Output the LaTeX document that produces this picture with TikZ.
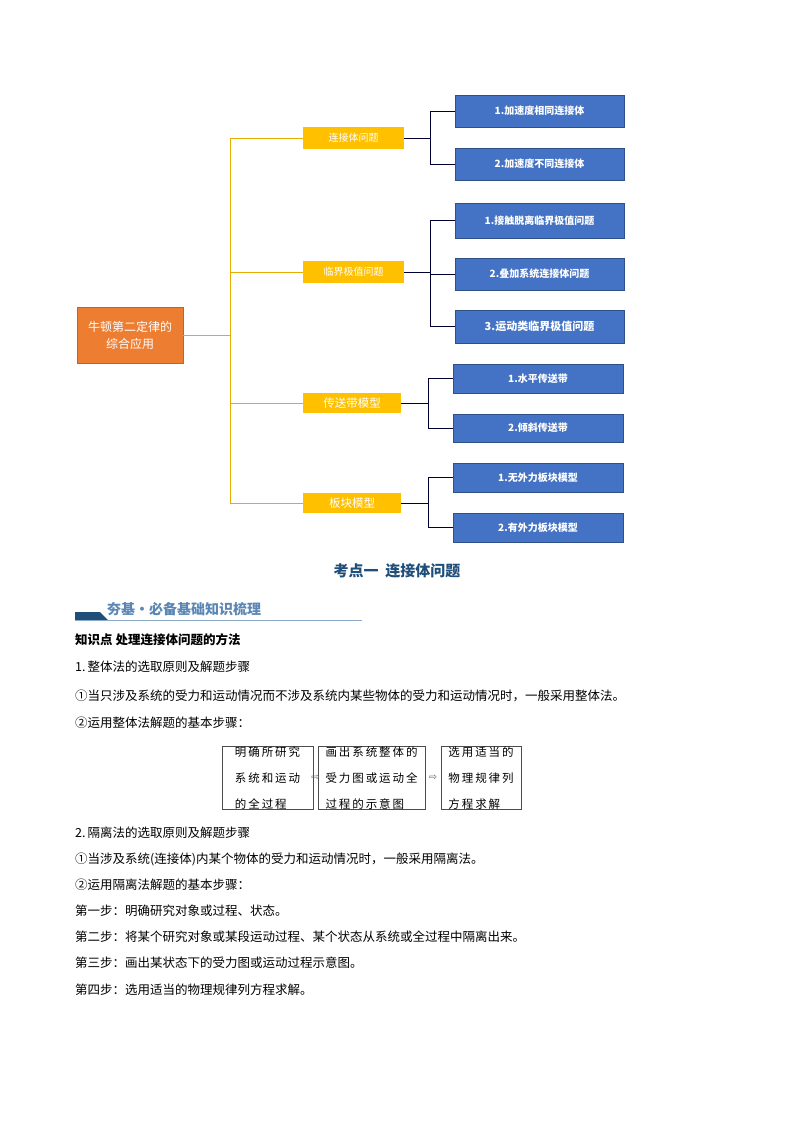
\documentclass[tikz,border=0pt]{standalone}
\usepackage{fontspec}
\usetikzlibrary{calc}
\setmainfont{Noto Sans CJK SC}
\newfontfamily\djv{DejaVu Sans}
\begin{document}
\begin{tikzpicture}[x=1pt,y=-1pt,
 yb/.style={fill=yl,text=white,font=\fontsize{10}{12}\selectfont,inner sep=0pt},
 bb/.style={fill=bl,draw=bl!70!black,text=white,font=\fontsize{10}{12}\selectfont\bfseries,inner sep=0pt},
 yline/.style={draw=yl!90!black,line width=0.9pt},
 dline/.style={draw=black!80!blue,line width=0.8pt},
 tx/.style={anchor=west,inner sep=0pt,font=\fontsize{12.5}{14}\selectfont},
 fb/.style={draw=black!70,line width=0.7pt,inner sep=0pt,font=\fontsize{11.5}{26}\selectfont,align=left}]
\definecolor{yl}{HTML}{FFC000}\definecolor{bl}{HTML}{4472C4}\definecolor{og}{HTML}{ED7D31}
\definecolor{tb}{HTML}{1F4E79}\definecolor{hb}{HTML}{5B87B5}
\useasboundingbox (0,0) rectangle (794,1123);
\fill[white] (0,0) rectangle (794,1123);
% root
\node[fill=og,draw=og!80!black,text=white,minimum width=106pt,minimum height=56pt,inner sep=0pt,align=center,font=\fontsize{12}{17}\selectfont] (root) at (130,335) {牛顿第二定律的\\综合应用};
% yellow
\node[yb,minimum width=101pt,minimum height=22pt] (y1) at (353.5,138) {连接体问题};
\node[yb,minimum width=101pt,minimum height=22pt] (y2) at (353.5,272) {临界极值问题};
\node[yb,minimum width=98pt,minimum height=20pt,font=\fontsize{11.5}{12}\selectfont] (y3) at (352,403) {传送带模型};
\node[yb,minimum width=98pt,minimum height=20pt,font=\fontsize{11.5}{12}\selectfont] (y4) at (352,503) {板块模型};
\coordinate (t) at (230,335);
\draw[yline] (root.east) -- (t);
\foreach \y in {y1,y2,y3,y4} \draw[yline] (t) |- (\y.west);
% blue
\node[bb,minimum width=169pt,minimum height=32pt] (b1) at (539.5,111) {1.加速度相同连接体};
\node[bb,minimum width=169pt,minimum height=32pt] (b2) at (539.5,164) {2.加速度不同连接体};
\node[bb,minimum width=169pt,minimum height=35pt] (b3) at (539.5,220.5) {1.接触脱离临界极值问题};
\node[bb,minimum width=169pt,minimum height=32pt] (b4) at (539.5,274) {2.叠加系统连接体问题};
\node[bb,minimum width=169pt,minimum height=33pt,font=\fontsize{11}{12}\selectfont\bfseries] (b5) at (539.5,326.5) {3.运动类临界极值问题};
\node[bb,minimum width=170pt,minimum height=29pt] (b6) at (538,378.5) {1.水平传送带};
\node[bb,minimum width=170pt,minimum height=28pt] (b7) at (538,428) {2.倾斜传送带};
\node[bb,minimum width=170pt,minimum height=29pt] (b8) at (538,477.5) {1.无外力板块模型};
\node[bb,minimum width=170pt,minimum height=29pt] (b9) at (538,527.5) {2.有外力板块模型};
\coordinate (j1) at (430,138);\coordinate (j2) at (430,272);\coordinate (j3) at (428,403);\coordinate (j4) at (428,503);
\draw[dline] (y1.east)--(j1); \draw[dline] (j1)|-(b1.west); \draw[dline] (j1)|-(b2.west);
\draw[dline] (y2.east)--(j2); \draw[dline] (j2)|-(b3.west); \draw[dline] (j2)|-(b4.west); \draw[dline] (j2)|-(b5.west);
\draw[dline] (y3.east)--(j3); \draw[dline] (j3)|-(b6.west); \draw[dline] (j3)|-(b7.west);
\draw[dline] (y4.east)--(j4); \draw[dline] (j4)|-(b8.west); \draw[dline] (j4)|-(b9.west);
% title
\node[text=tb,font=\fontsize{15}{18}\selectfont\bfseries] (title) at (397,571) {考点一\ \ 连接体问题};
% section header
\fill[tb] (75,612) -- (100,612) -- (108,620) -- (75,620) -- cycle;
\draw[hb!70,line width=0.6pt] (75,620.5) -- (362,620.5);
\node[anchor=west,inner sep=0pt,text=hb,font=\fontsize{14}{16}\selectfont\bfseries] (sec) at (107,609) {夯基·必备基础知识梳理};
% body
\node[tx,font=\fontsize{12.5}{14}\selectfont\bfseries] (l1) at (75,640) {知识点\ 处理连接体问题的方法};
\node[tx] (l2) at (75,667) {1.\,整体法的选取原则及解题步骤};
\node[tx] (l3) at (75,696) {①当只涉及系统的受力和运动情况而不涉及系统内某些物体的受力和运动情况时，一般采用整体法。};
\node[tx] (l4) at (75,723) {②运用整体法解题的基本步骤：};
\node[fb,minimum width=91pt,minimum height=62pt] (f1) at (267.5,778) {明\,确\,所\,研\,究\\系\,统\,和\,运\,动\\的\,全\,过\,程};
\node[fb,minimum width=107pt,minimum height=62pt] (f2) at (371.5,778) {画\,出\,系\,统\,整\,体\,的\\受\,力\,图\,或\,运\,动\,全\\过\,程\,的\,示\,意\,图};
\node[fb,minimum width=80pt,minimum height=62pt] (f3) at (481,778) {选\,用\,适\,当\,的\\物\,理\,规\,律\,列\\方\,程\,求\,解};
\node[inner sep=0pt,text=black!60,font=\djv\fontsize{10}{12}\selectfont] (a1) at ($(f1.east)!0.5!(f2.west)$) {⇨};
\node[inner sep=0pt,text=black!60,font=\djv\fontsize{10}{12}\selectfont] (a2) at ($(f2.east)!0.5!(f3.west)$) {⇨};
\node[tx] (l5) at (75,833) {2.\,隔离法的选取原则及解题步骤};
\node[tx] (l6) at (75,859) {①当涉及系统(连接体)内某个物体的受力和运动情况时，一般采用隔离法。};
\node[tx] (l7) at (75,885) {②运用隔离法解题的基本步骤：};
\node[tx] (l8) at (75,911) {第一步：明确研究对象或过程、状态。};
\node[tx] (l9) at (75,937) {第二步：将某个研究对象或某段运动过程、某个状态从系统或全过程中隔离出来。};
\node[tx] (l10) at (75,963) {第三步：画出某状态下的受力图或运动过程示意图。};
\node[tx] (l11) at (75,990) {第四步：选用适当的物理规律列方程求解。};
\end{tikzpicture}
\end{document}
